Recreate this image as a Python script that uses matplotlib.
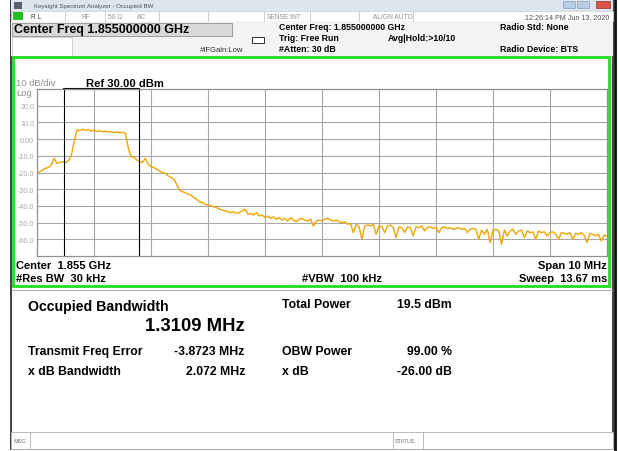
import numpy as np
import matplotlib.pyplot as plt
from matplotlib.patches import Rectangle

plt.rcParams['font.family'] = ['Liberation Sans', 'DejaVu Sans']

# instrument settings
center_mhz = 1855.0
span_mhz = 10.0
ref_dbm = 30.0
db_per_div = 10.0
ytick_vals = [20, 10, 0, -10, -20, -30, -40, -50, -60]
ytick_labels = ['20.0', '10.0', '0.00', '-10.0', '-20.0', '-30.0', '-40.0', '-50.0', '-60.0']

# measurement results
obw_mhz = 1.3109
freq_error_mhz = -3.8723
xdb_bw_mhz = 2.072
total_power_dbm = 19.5
obw_power_pct = 99.00
x_db = -26.00

# trace (dBm), one value every 0.05 MHz from 1850 to 1860 MHz
trace_dbm = [
    -20, -19.5, -18.5, -17.5, -17, -15.5, -11.5, -14.5, -14, -13.5,
    -14, -13, -10, -2, 5.5, 5, 6, 5.2, 5.8, 4.8,
    5.3, 4.6, 5, 4.4, 4.8, 4.2, 4.5, 3.9, 4.3, 3.8,
    4.1, 3.6, -5, -10.5, -11, -12.5, -13.5, -14, -11.5, -15,
    -16.5, -17, -18, -19, -20, -20.5, -22, -23, -24, -27,
    -30.5, -31.5, -32, -33, -33.5, -35, -36, -37.5, -38, -39,
    -39.5, -40, -40.5, -41, -42, -42.5, -43, -43.5, -44, -43.5,
    -44.5, -44, -43, -42, -45, -44.5, -45.5, -44, -46, -45.5,
    -47, -46, -47.5, -46.5, -48, -47, -48.5, -47.5, -49, -47,
    -48.5, -49.5, -48, -47.5, -48.5, -49, -48, -52, -49, -48.5,
    -49, -48, -47.5, -48.5, -49, -48.5, -49.5, -50, -49.5, -51,
    -50.5, -56, -51, -52.5, -60, -52, -51.5, -52, -51, -57,
    -52, -52.5, -56, -52, -51.5, -53, -59, -52.5, -53, -56,
    -52.5, -53, -58, -52.5, -53, -52, -55, -53, -52.5, -53.5,
    -53, -56, -53, -52.5, -53.5, -53, -54, -53.5, -53, -54,
    -53.5, -56, -54, -53.5, -54, -60, -54.5, -57, -54, -62,
    -54.5, -54, -55, -63, -54.5, -58, -55, -54, -57, -55,
    -54.5, -59, -55, -56, -55.5, -60, -55, -56, -55.5, -58,
    -56, -55.5, -57, -60, -56, -56.5, -57, -56, -60, -56.5,
    -57, -56, -57.5, -62, -56.5, -57, -58, -57, -61, -57.5,
    -58,
]

W, H = 619, 452
fig = plt.figure(figsize=(W / 100, H / 100), dpi=100, facecolor='white')

# background axes in pixel coordinates for the window chrome
bg = fig.add_axes([0, 0, 1, 1])
bg.set_xlim(0, W)
bg.set_ylim(H, 0)
bg.axis('off')

def box(x0, y0, x1, y1, fc='none', ec='none', lw=1.0, z=1):
    bg.add_patch(Rectangle((x0, y0), x1 - x0, y1 - y0, fc=fc, ec=ec, lw=lw, zorder=z))

def txt(x, y, s, size=6, weight='bold', color='black', ha='left', va='center'):
    bg.text(x, y, s, fontsize=size, fontweight=weight, color=color, ha=ha, va=va)

def vline(x, y0, y1, color='#c8c8c8', lw=0.6):
    bg.plot([x, x], [y0, y1], color=color, lw=lw)

# window frame and title bar
box(11, 0, 613, 450, fc='white', ec='#202020', lw=1.2)
box(11, 0, 613, 12, fc='#dde5ee')
box(14, 2.5, 22, 9.5, fc='#556070')
txt(34, 6.3, 'Keysight Spectrum Analyzer - Occupied BW', size=4.4, weight='normal', color='#505050')
box(563, 1.5, 575, 9, fc='#b8cde6', ec='#8aa0bb', lw=0.5)
box(577, 1.5, 589, 9, fc='#b8cde6', ec='#8aa0bb', lw=0.5)
box(596, 1.5, 610, 9, fc='#d9534a', ec='#a03030', lw=0.5)

# status row
box(11, 12, 613, 22, fc='white', ec='#c8c8c8', lw=0.5)
box(13, 13, 23, 21, fc='#22c022')
for sx in [65, 105, 159, 208, 264, 310, 359, 413]:
    vline(sx, 12, 22)
txt(31, 17.3, 'R L', size=4.8, weight='normal', color='#404040')
txt(81, 17.3, 'RF', size=4.8, weight='normal', color='#909090')
txt(108, 17.3, '50 Ω', size=4.8, weight='normal', color='#909090')
txt(137, 17.3, 'AC', size=4.8, weight='normal', color='#909090')
txt(267, 17.3, 'SENSE:INT', size=4.8, weight='normal', color='#909090')
txt(373, 17.3, 'ALIGN AUTO', size=4.8, weight='normal', color='#909090')
txt(609, 17.3, '12:26:14 PM Jun 13, 2020', size=5.1, weight='normal', color='#505050', ha='right')

# header area
box(11, 22, 613, 57, fc='#f4f4f4')
box(12, 23.5, 232, 36.5, fc='#d9d9d9', ec='#909090', lw=0.6)
txt(14, 30.5, 'Center Freq 1.855000000 GHz', size=9.0)
box(12, 38, 72, 57, fc='white', ec='#c0c0c0', lw=0.5)
txt(200, 50.7, '#IFGain:Low', size=5.5, weight='normal', color='#303030')
box(252, 38, 264, 43.5, fc='white', ec='#303030', lw=0.7)
txt(279, 28, 'Center Freq: 1.855000000 GHz', size=6.3)
txt(279, 38.7, 'Trig: Free Run', size=6.3)
txt(279, 49.7, '#Atten: 30 dB', size=6.3)
txt(388, 38.7, 'Avg|Hold:>10/10', size=6.3)
txt(500, 28, 'Radio Std: None', size=6.3)
txt(500, 49.7, 'Radio Device: BTS', size=6.3)

# green measurement window
box(13, 58, 609, 287, fc='white', ec='#22dd22', lw=2.0, z=2)
txt(16, 84, '10 dB/div', size=6.8, weight='normal', color='#909090')
txt(16, 94, 'Log', size=6.8, weight='normal', color='#909090')
txt(86, 84, 'Ref %.2f dBm' % ref_dbm, size=8.1)
txt(16, 266, 'Center  %.3f GHz' % (center_mhz / 1000), size=8.0)
txt(16, 279, '#Res BW  30 kHz', size=8.0)
txt(302, 279, '#VBW  100 kHz', size=8.0)
txt(607, 266, 'Span %g MHz' % span_mhz, size=8.0, ha='right')
txt(607, 279, 'Sweep  13.67 ms', size=8.0, ha='right')

# results panel
bg.plot([12, 612], [291, 291], color='#b0b0b0', lw=0.8)
txt(28, 307, 'Occupied Bandwidth', size=10.2)
txt(245, 327, '%.4f MHz' % obw_mhz, size=13.3, ha='right')
txt(28, 352, 'Transmit Freq Error', size=8.8)
txt(245, 352, '%.4f MHz' % freq_error_mhz, size=8.8, ha='right')
txt(28, 372, 'x dB Bandwidth', size=8.8)
txt(245, 372, '%.3f MHz' % xdb_bw_mhz, size=8.8, ha='right')
txt(282, 305, 'Total Power', size=8.8)
txt(452, 305, '%.1f dBm' % total_power_dbm, size=8.8, ha='right')
txt(282, 352, 'OBW Power', size=8.8)
txt(452, 352, '%.2f %%' % obw_power_pct, size=8.8, ha='right')
txt(282, 372, 'x dB', size=8.8)
txt(452, 372, '%.2f dB' % x_db, size=8.8, ha='right')

# bottom status bar
box(11, 433, 613, 450, fc='white', ec='#b0b0b0', lw=0.6)
vline(30, 433, 450, color='#b0b0b0')
vline(393, 433, 450, color='#b0b0b0')
vline(423, 433, 450, color='#b0b0b0')
txt(13, 441.5, 'MSG', size=4, weight='normal', color='#707070')
txt(395, 441.5, 'STATUS', size=4, weight='normal', color='#707070')
vline(614.5, 0, 452, color='#101010', lw=2.0)

# graticule
x0, y0, x1, y1 = 37, 90, 607, 257
ax = fig.add_axes([x0 / W, 1 - y1 / H, (x1 - x0) / W, (y1 - y0) / H])
ax.set_zorder(3)
f_start = center_mhz - span_mhz / 2
f_stop = center_mhz + span_mhz / 2
freqs = np.linspace(f_start, f_stop, len(trace_dbm))
ax.plot(freqs, trace_dbm, color='#f0a500', lw=1.0)
ax.set_xlim(f_start, f_stop)
ax.set_ylim(ref_dbm - 10 * db_per_div, ref_dbm)
ax.set_xticks(np.arange(f_start + 1, f_stop, 1))
ax.set_xticklabels([])
ax.set_yticks(ytick_vals)
ax.set_yticklabels(ytick_labels)
ax.tick_params(length=0, labelsize=5.2, labelcolor='#a8a8a8', pad=2)
ax.grid(True, color='#a8a8a8', lw=0.8)
ax.set_axisbelow(True)
for sp in ax.spines.values():
    sp.set_color('#909090')
    sp.set_linewidth(0.9)

# OBW marker lines
obw_lo = center_mhz + freq_error_mhz - obw_mhz / 2
obw_hi = center_mhz + freq_error_mhz + obw_mhz / 2
ax.axvline(obw_lo, color='black', lw=0.8)
ax.axvline(obw_hi, color='black', lw=0.8)
ax.plot([obw_lo, obw_hi], [ref_dbm, ref_dbm], color='black', lw=1.5, clip_on=False)

fig.savefig('out.png', dpi=100, facecolor='white')
